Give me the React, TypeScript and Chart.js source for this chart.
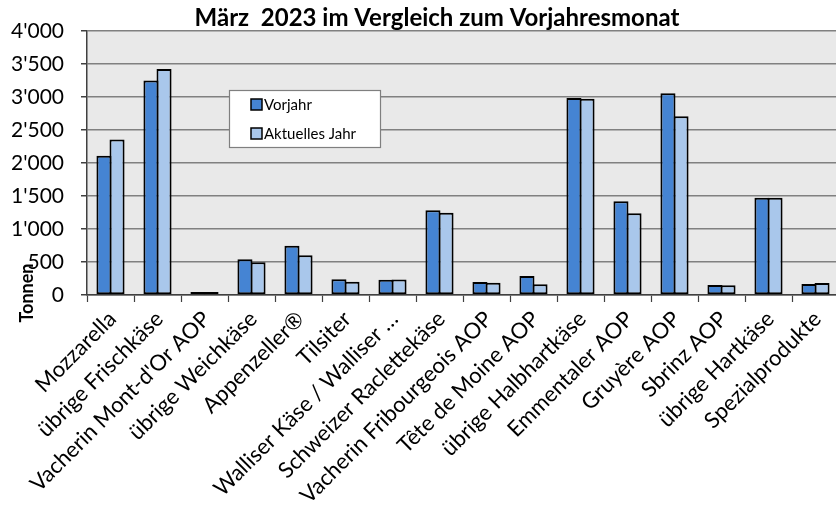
import React, { useEffect, useRef } from "react";
import { Chart, registerables } from "chart.js";

Chart.register(...registerables);

const categories = [
  "Mozzarella",
  "übrige Frischkäse",
  "Vacherin Mont-d'Or AOP",
  "übrige Weichkäse",
  "Appenzeller®",
  "Tilsiter",
  "Walliser Käse / Walliser …",
  "Schweizer Raclettekäse",
  "Vacherin Fribourgeois AOP",
  "Tête de Moine AOP",
  "übrige Halbhartkäse",
  "Emmentaler AOP",
  "Gruyère AOP",
  "Sbrinz AOP",
  "übrige Hartkäse",
  "Spezialprodukte",
];

const vorjahr = [2110, 3250, 5, 540, 747, 238, 232, 1283, 197, 288, 2985, 1419, 3056, 152, 1475, 167];
const aktuellesJahr = [2355, 3425, 5, 495, 601, 202, 235, 1247, 186, 162, 2975, 1237, 2707, 146, 1475, 182];

const seriesNames = ["Vorjahr", "Aktuelles Jahr"];
const seriesColors = ["#4584D3", "#A9C7EB"];

const yMin = 0;
const yMax = 4000;
const yStep = 500;

const titleText = "März  2023 im Vergleich zum Vorjahresmonat";
const yAxisTitle = "Tonnen";

const FONT = "Lato, 'Open Sans', sans-serif";

function formatThousands(v: number): string {
  if (v >= 1000) {
    const th = Math.floor(v / 1000);
    const rest = String(v % 1000).padStart(3, "0");
    return th + "'" + rest;
  }
  return String(v);
}

const backgroundPlugin = {
  id: "plotBackground",
  beforeDraw(chart: any) {
    const { ctx, chartArea } = chart;
    ctx.save();
    ctx.fillStyle = "#E9E9E9";
    ctx.fillRect(chartArea.left, chartArea.top, chartArea.right - chartArea.left, chartArea.bottom - chartArea.top);
    ctx.restore();
  },
};

const overlayPlugin = {
  id: "overlay",
  afterDraw(chart: any) {
    const { ctx, chartArea } = chart;
    ctx.save();
    // Title
    ctx.fillStyle = "#000";
    ctx.font = `bold 24px ${FONT}`;
    ctx.textAlign = "center";
    ctx.textBaseline = "alphabetic";
    ctx.fillText(titleText, 437, 26);

    // Y axis title
    ctx.save();
    ctx.translate(27.5, 293);
    ctx.rotate(-Math.PI / 2);
    ctx.font = `bold 18px ${FONT}`;
    ctx.textAlign = "center";
    ctx.textBaseline = "middle";
    ctx.fillText(yAxisTitle, 0, 0);
    ctx.restore();

    // Legend
    const lx = chartArea.left + 142;
    const ly = chartArea.top + 59;
    const lw = 151;
    const lh = 57;
    ctx.fillStyle = "#FFFFFF";
    ctx.fillRect(lx, ly, lw, lh);
    ctx.strokeStyle = "#7F7F7F";
    ctx.lineWidth = 1.2;
    ctx.strokeRect(lx + 0.5, ly + 0.5, lw, lh);
    ctx.font = `15px ${FONT}`;
    ctx.textAlign = "left";
    ctx.textBaseline = "alphabetic";
    seriesNames.forEach((name, i) => {
      const sy = ly + 9 + i * 29;
      ctx.fillStyle = seriesColors[i];
      ctx.fillRect(lx + 22, sy, 11, 11);
      ctx.strokeStyle = "#000";
      ctx.lineWidth = 1.5;
      ctx.strokeRect(lx + 22, sy, 11, 11);
      ctx.fillStyle = "#000";
      ctx.fillText(name, lx + 35, sy + 10.5);
    });
    ctx.restore();
  },
};

export default function App() {
  const ref = useRef<HTMLCanvasElement | null>(null);

  useEffect(() => {
    if (!ref.current) return;
    const chart = new Chart(ref.current, {
      type: "bar",
      data: {
        labels: categories,
        datasets: [
          {
            label: seriesNames[0],
            data: vorjahr,
            backgroundColor: seriesColors[0],
            borderColor: "#000000",
            borderWidth: 2,
            borderSkipped: false,
            categoryPercentage: 0.556,
            barPercentage: 1.154,
            minBarLength: 3,
          },
          {
            label: seriesNames[1],
            data: aktuellesJahr,
            backgroundColor: seriesColors[1],
            borderColor: "#000000",
            borderWidth: 2,
            borderSkipped: false,
            categoryPercentage: 0.556,
            barPercentage: 1.154,
            minBarLength: 3,
          },
        ],
      },
      options: {
        responsive: false,
        animation: false,
        devicePixelRatio: 1,
        layout: { padding: { top: 31, right: 1, left: 0, bottom: 0 } },
        plugins: {
          legend: { display: false },
          title: { display: false },
          tooltip: { enabled: false },
        },
        scales: {
          x: {
            afterFit(scale: any) {
              scale.height = 213;
            },
            grid: {
              drawOnChartArea: false,
              drawTicks: true,
              tickLength: 7,
              tickColor: "#404040",
              tickWidth: 1.2,
              offset: true,
            },
            border: { display: true, color: "#404040", width: 1.5 },
            ticks: {
              color: "#000",
              font: { family: FONT, size: 22 },
              minRotation: 45,
              maxRotation: 45,
              autoSkip: false,
              padding: 4,
              labelOffset: 2,
            },
          },
          y: {
            min: yMin,
            max: yMax,
            afterFit(scale: any) {
              scale.width = 87;
            },
            grid: {
              color: "#808080",
              lineWidth: 1.5,
              drawTicks: true,
              tickLength: 6,
              tickColor: "#404040",
            },
            border: { display: true, color: "#404040", width: 1.5 },
            ticks: {
              stepSize: yStep,
              color: "#000",
              font: { family: FONT, size: 21 },
              padding: 17,
              callback: (v: any) => formatThousands(Number(v)),
            },
          },
        },
      },
      plugins: [backgroundPlugin, overlayPlugin],
    });
    return () => chart.destroy();
  }, []);

  return (
    <div style={{ position: "absolute", left: 0, top: 0, width: 836, height: 508, overflow: "hidden", background: "#fff" }}>
      <canvas ref={ref} width={840} height={508} style={{ display: "block" }} />
    </div>
  );
}
